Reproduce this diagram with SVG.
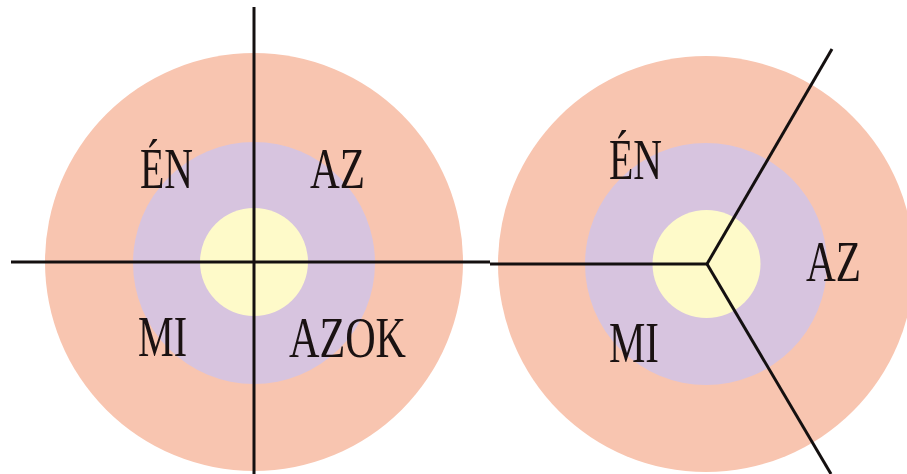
<svg xmlns="http://www.w3.org/2000/svg" width="907" height="474" viewBox="0 0 907 474">
  <style>
    .outer { fill: #F8C5B0; }
    .middle { fill: #D7C4DF; }
    .inner { fill: #FEFAC9; }
    .axis { stroke: #141010; stroke-width: 3; fill: none; stroke-linecap: butt; }
    .label { font-family: "Liberation Serif", "DejaVu Serif", serif; font-size: 58px; fill: #1A1212; }
  </style>
  <rect width="907" height="474" fill="#FFFFFF"/>

  <!-- Four-sector target -->
  <g id="target-four">
    <circle class="outer" cx="254" cy="262" r="209"/>
    <circle class="middle" cx="254" cy="263" r="121"/>
    <circle class="inner" cx="254" cy="262" r="54"/>
  </g>

  <!-- Three-sector target -->
  <g id="target-three">
    <circle class="outer" cx="706" cy="264" r="208"/>
    <circle class="middle" cx="706" cy="264" r="121"/>
    <circle class="inner" cx="706.5" cy="264" r="54"/>
  </g>

  <!-- Dividing lines -->
  <g id="connectors">
    <line class="axis" x1="254" y1="7" x2="254" y2="474"/>
    <line class="axis" x1="11" y1="262" x2="490" y2="262"/>
    <line class="axis" x1="490" y1="264" x2="707" y2="264"/>
    <line class="axis" x1="707" y1="264" x2="832" y2="49"/>
    <line class="axis" x1="707" y1="264" x2="831" y2="474"/>
  </g>

  <!-- Sector labels, left target -->
  <g id="label-en-left"><text class="label" x="140" y="188" textLength="53" lengthAdjust="spacingAndGlyphs">ÉN</text></g>
  <g id="label-az-left"><text class="label" x="310" y="188" textLength="55" lengthAdjust="spacingAndGlyphs">AZ</text></g>
  <g id="label-mi-left"><text class="label" x="138" y="356" textLength="49" lengthAdjust="spacingAndGlyphs">MI</text></g>
  <g id="label-azok-left"><text class="label" x="289" y="357" textLength="117" lengthAdjust="spacingAndGlyphs">AZOK</text></g>

  <!-- Sector labels, right target -->
  <g id="label-en-right"><text class="label" x="609" y="179" textLength="53" lengthAdjust="spacingAndGlyphs">ÉN</text></g>
  <g id="label-az-right"><text class="label" x="806" y="281" textLength="55" lengthAdjust="spacingAndGlyphs">AZ</text></g>
  <g id="label-mi-right"><text class="label" x="609" y="362" textLength="50" lengthAdjust="spacingAndGlyphs">MI</text></g>
</svg>
